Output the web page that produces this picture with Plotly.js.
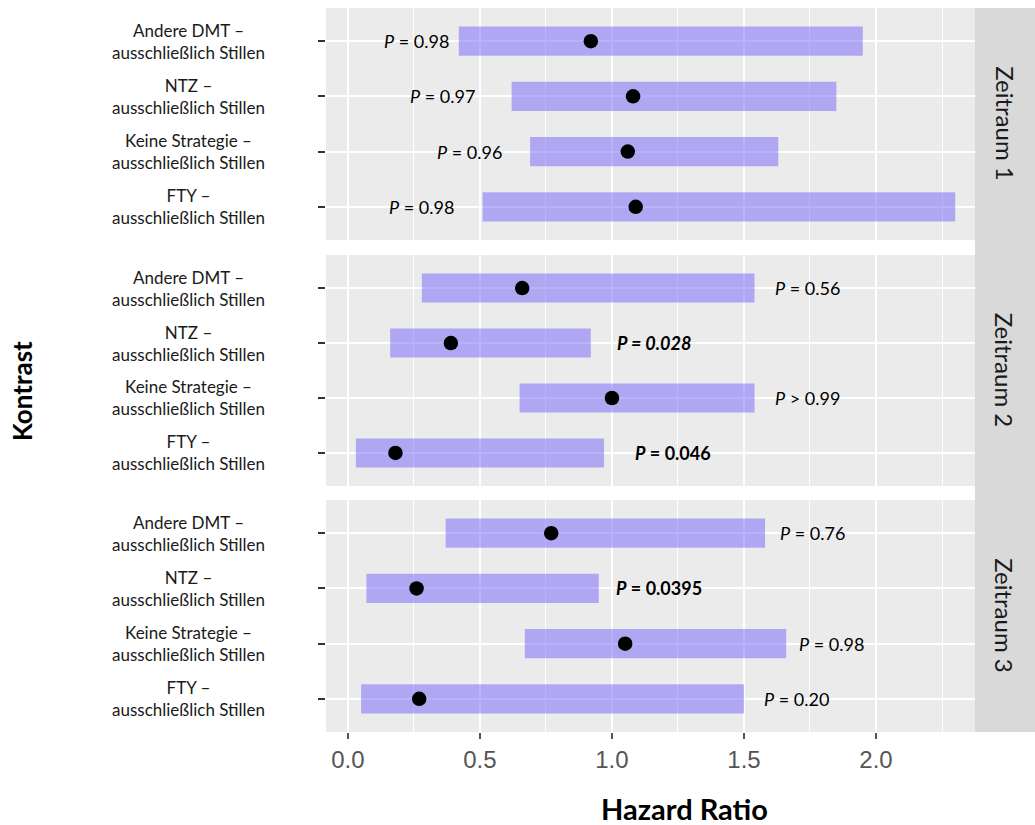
<!DOCTYPE html>
<html>
<head>
<meta charset="utf-8">
<script src="https://cdn.plot.ly/plotly-3.0.1.min.js"></script>
<style>html,body{margin:0;padding:0;background:#fff;}#chart{width:1035px;height:825px;}</style>
</head>
<body>
<div id="chart"></div>
<script>
// ---- data ----
const periods = ['Zeitraum 1', 'Zeitraum 2', 'Zeitraum 3'];
const contrasts = [
  'Andere DMT –<br>ausschließlich Stillen',
  'NTZ –<br>ausschließlich Stillen',
  'Keine Strategie –<br>ausschließlich Stillen',
  'FTY –<br>ausschließlich Stillen'
];
// hazard ratio (point) and CI bounds per period
const hrZ1 = [0.92, 1.08, 1.06, 1.09];
const loZ1 = [0.42, 0.62, 0.69, 0.51];
const hiZ1 = [1.95, 1.85, 1.63, 2.30];
const hrZ2 = [0.66, 0.39, 1.00, 0.18];
const loZ2 = [0.28, 0.16, 0.65, 0.03];
const hiZ2 = [1.54, 0.92, 1.54, 0.97];
const hrZ3 = [0.77, 0.26, 1.05, 0.27];
const loZ3 = [0.37, 0.07, 0.67, 0.05];
const hiZ3 = [1.58, 0.95, 1.66, 1.50];
// p-value labels and their x positions (HR scale)
const pTextZ1 = ['<i>P</i> = 0.98', '<i>P</i> = 0.97', '<i>P</i> = 0.96', '<i>P</i> = 0.98'];
const pPosZ1 = [0.26, 0.36, 0.46, 0.28];
const pTextZ2 = ['<i>P</i> = 0.56', '<b><i>P = 0.028</i></b>', '<i>P</i> > 0.99', '<b><i>P</i> = 0.046</b>'];
const pPosZ2 = [1.74, 1.16, 1.74, 1.23];
const pTextZ3 = ['<i>P</i> = 0.76', '<b><i>P</i> = 0.0395</b>', '<i>P</i> = 0.98', '<i>P</i> = 0.20'];
const pPosZ3 = [1.76, 1.18, 1.83, 1.70];
const xTickVals = [0, 0.5, 1, 1.5, 2];
const xTickText = ['0.0', '0.5', '1.0', '1.5', '2.0'];

const hr = [hrZ1, hrZ2, hrZ3];
const lo = [loZ1, loZ2, loZ3];
const hi = [hiZ1, hiZ2, hiZ3];
const pText = [pTextZ1, pTextZ2, pTextZ3];
const pPos = [pPosZ1, pPosZ2, pPosZ3];

// ---- build ----
const FONT = 'Lato, "Open Sans", sans-serif';
const traces = [];
const annotations = [];
const axSuffix = ['', '2', '3'];
periods.forEach((per, k) => {
  const xa = 'x' + axSuffix[k], ya = 'y' + axSuffix[k];
  traces.push({
    type: 'bar', orientation: 'h', xaxis: xa, yaxis: ya,
    y: contrasts, base: lo[k], x: hi[k].map((h, i) => h - lo[k][i]),
    width: 0.53, marker: {color: 'rgba(122,106,252,0.52)', line: {width: 0}},
    hoverinfo: 'skip', showlegend: false
  });
  traces.push({
    type: 'scatter', mode: 'markers', xaxis: xa, yaxis: ya,
    y: contrasts, x: hr[k],
    marker: {color: '#000', size: 14.5}, showlegend: false
  });
  contrasts.forEach((c, i) => {
    annotations.push({
      xref: xa, yref: ya, x: pPos[k][i], y: i, text: pText[k][i],
      showarrow: false, xanchor: 'center', yanchor: 'middle',
      font: {family: FONT, size: 18, color: '#000'}
    });
    annotations.push({
      xref: 'paper', yref: ya, x: -0.2126, y: i, text: c,
      showarrow: false, xanchor: 'center', yanchor: 'middle', align: 'center',
      font: {family: FONT, size: 17, color: '#1a1a1a'}
    });
  });
  annotations.push({
    xref: 'paper', yref: ya + ' domain', x: 1.046, y: 0.5, text: per,
    textangle: 90, showarrow: false, xanchor: 'center', yanchor: 'middle',
    font: {family: FONT, size: 24, color: '#1a1a1a'}
  });
});
annotations.push({
  xref: 'paper', yref: 'paper', x: (684 - 326) / 649, y: (732 - 808) / 724,
  text: '<b>Hazard Ratio</b>', showarrow: false, xanchor: 'center', yanchor: 'middle',
  font: {family: FONT, size: 29, color: '#000'}
});
annotations.push({
  xref: 'paper', yref: 'paper', x: (22 - 326) / 649, y: (732 - 391) / 724,
  text: '<b>Kontrast</b>', textangle: -90, showarrow: false, xanchor: 'center', yanchor: 'middle',
  font: {family: FONT, size: 26, color: '#000'}
});

const domains = [[0.6796, 1], [0.3398, 0.6588], [0, 0.3204]];
const layout = {
  width: 1035, height: 825,
  margin: {l: 326, r: 60, t: 8, b: 93, pad: 0},
  paper_bgcolor: '#fff', plot_bgcolor: '#EBEBEB',
  showlegend: false, barmode: 'overlay',
  annotations: annotations,
  shapes: [{
    type: 'rect', xref: 'paper', yref: 'paper', x0: 1, x1: 1.095, y0: 0, y1: 1,
    fillcolor: '#D9D9D9', line: {width: 0}
  }]
};
periods.forEach((per, k) => {
  const s = axSuffix[k];
  layout['xaxis' + s] = {
    anchor: 'y' + s, domain: [0, 1], range: [-0.083, 2.375],
    tickvals: xTickVals, ticktext: xTickText,
    showticklabels: k === 2, ticks: k === 2 ? 'outside' : '',
    ticklen: 6, tickwidth: 2, tickcolor: '#555',
    tickfont: {family: '"Liberation Sans", Arial, sans-serif', size: 24, color: '#555'},
    showgrid: true, gridcolor: '#fff', gridwidth: 2,
    minor: {dtick: 0.25, tick0: 0, showgrid: true, gridcolor: '#fff', gridwidth: 1, ticks: ''},
    zeroline: false, showline: false, fixedrange: true
  };
  if (k > 0) layout['xaxis' + s].matches = 'x';
  layout['yaxis' + s] = {
    anchor: 'x' + s, domain: domains[k], type: 'category',
    categoryorder: 'array', categoryarray: contrasts,
    range: [3.6, -0.6], showticklabels: false,
    ticks: 'outside', ticklen: 7, tickwidth: 2, tickcolor: '#333',
    showgrid: true, gridcolor: '#fff', gridwidth: 2,
    zeroline: false, showline: false, fixedrange: true
  };
});

Plotly.newPlot('chart', traces, layout, {displayModeBar: false, staticPlot: true});
</script>
</body>
</html>
